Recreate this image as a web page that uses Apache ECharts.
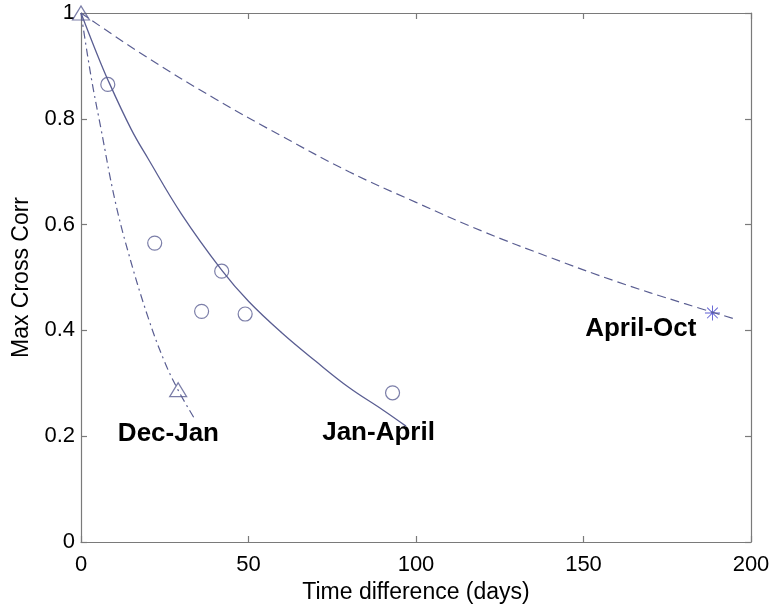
<!DOCTYPE html>
<html>
<head>
<meta charset="utf-8">
<script src="https://cdn.jsdelivr.net/npm/echarts@6/dist/echarts.min.js"></script>
<style>
  html, body { margin: 0; padding: 0; background: #fff; }
  #main { width: 773px; height: 609px; }
</style>
</head>
<body>
<div id="main"></div>
<script>
// fitted curves as [days, corr]
const decJanCurve = [[0, 1], [3, 0.88], [6, 0.78], [10, 0.65], [14, 0.55], [20, 0.425], [25, 0.34], [29, 0.287], [34, 0.232]];
const janAprilCurve = [[0, 1], [4, 0.935], [8, 0.874], [15, 0.78], [20, 0.725], [30, 0.62], [42, 0.514], [50, 0.455],
  [60, 0.395], [70, 0.342], [80, 0.292], [90, 0.25], [97, 0.219]];
const aprilOctCurve = [[0, 1], [20, 0.915], [40, 0.838], [60, 0.767], [80, 0.70], [100, 0.642], [120, 0.587],
  [140, 0.538], [160, 0.492], [180, 0.451], [195, 0.422]];

// measured points
const decJanPoints = [[0, 1], [29, 0.288]];
const janAprilPoints = [[8, 0.865], [22, 0.565], [36, 0.436], [42, 0.512], [49, 0.431], [93, 0.282]];
const aprilOctPoints = [[188.5, 0.433]];

// text labels in the plot (anchor = left edge, middle of the text, in data units)
const labelNames = ['Dec-Jan', 'Jan-April', 'April-Oct'];
const labelAnchors = [[11.0, 0.205], [72.0, 0.207], [150.5, 0.403]];

const xTicks = [0, 50, 100, 150, 200];
const yTicks = [0, 0.2, 0.4, 0.6, 0.8, 1];

const lineColor = '#5a5e92';
const starColor = '#3636c8';
const font = 'Liberation Sans, Arial, Helvetica, sans-serif';

const asterisk = 'path://M-0.6,-10 L0.6,-10 L0.6,10 L-0.6,10 Z ' +
  'M-10,-0.6 L10,-0.6 L10,0.6 L-10,0.6 Z ' +
  'M-6.65,-7.49 L7.49,6.65 L6.65,7.49 L-7.49,-6.65 Z ' +
  'M6.65,-7.49 L7.49,-6.65 L-6.65,7.49 L-7.49,6.65 Z ' +
  'M-1.6,-1.6 L1.6,-1.6 L1.6,1.6 L-1.6,1.6 Z';

let chart = echarts.init(document.getElementById('main'));

function baseAxis(ticks) {
  return {
    type: 'value',
    min: ticks[0],
    max: ticks[ticks.length - 1],
    interval: ticks[1] - ticks[0],
    splitLine: { show: false },
    axisLine: { show: true, onZero: false, lineStyle: { color: '#7a7a7a', width: 1.2 } },
    axisTick: { show: true, inside: true, length: 6, lineStyle: { color: '#7a7a7a', width: 1.2 } }
  };
}

let option = {
  animation: false,
  backgroundColor: '#fff',
  textStyle: { fontFamily: font },
  grid: { left: 81, right: 22, top: 13, bottom: 67 },
  xAxis: [
    Object.assign(baseAxis(xTicks), {
      position: 'bottom',
      name: 'Time difference (days)',
      nameLocation: 'middle',
      nameGap: 36,
      nameTextStyle: { fontSize: 23, color: '#000', fontFamily: font },
      axisLabel: { fontSize: 22, color: '#000', margin: 12, fontFamily: font }
    }),
    Object.assign(baseAxis(xTicks), {
      position: 'top',
      axisLabel: { show: false }
    })
  ],
  yAxis: [
    Object.assign(baseAxis(yTicks), {
      position: 'left',
      name: 'Max Cross Corr',
      nameLocation: 'middle',
      nameGap: 47,
      nameTextStyle: { fontSize: 23, color: '#000', fontFamily: font },
      axisLabel: {
        fontSize: 22, color: '#000', margin: 6, fontFamily: font,
        formatter: v => String(+v.toFixed(1))
      }
    }),
    Object.assign(baseAxis(yTicks), {
      position: 'right',
      axisLabel: { show: false }
    })
  ],
  series: [
    {
      name: 'Dec-Jan fit', type: 'line', data: decJanCurve, smooth: 0.4,
      showSymbol: false, lineStyle: { color: lineColor, width: 1.2, type: [8, 4, 2, 4] }
    },
    {
      name: 'Jan-April fit', type: 'line', data: janAprilCurve, smooth: 0.4,
      showSymbol: false, lineStyle: { color: lineColor, width: 1.3, type: 'solid' }
    },
    {
      name: 'April-Oct fit', type: 'line', data: aprilOctCurve, smooth: 0.4,
      showSymbol: false, lineStyle: { color: lineColor, width: 1.2, type: [9, 5] }
    },
    {
      name: 'Dec-Jan', type: 'scatter', data: decJanPoints, symbol: 'triangle', symbolSize: [17, 14],
      itemStyle: { color: 'rgba(255,255,255,0)', borderColor: lineColor, borderWidth: 1.2 }
    },
    {
      name: 'Jan-April', type: 'scatter', data: janAprilPoints, symbol: 'circle', symbolSize: 14,
      itemStyle: { color: 'rgba(255,255,255,0)', borderColor: lineColor, borderWidth: 1.2 }
    },
    {
      name: 'April-Oct', type: 'scatter', data: aprilOctPoints, symbol: asterisk, symbolSize: 15,
      itemStyle: { color: starColor }
    }
  ]
};

chart.setOption(option);

// place the curve names through the chart's own scales
chart.setOption({
  graphic: labelNames.map((name, i) => {
    let pt = chart.convertToPixel({ gridIndex: 0 }, labelAnchors[i]);
    return {
      type: 'text',
      x: pt[0],
      y: pt[1],
      style: {
        text: name,
        fill: '#000',
        font: 'bold 26px ' + font,
        align: 'left',
        verticalAlign: 'middle'
      }
    };
  })
});
</script>
</body>
</html>
